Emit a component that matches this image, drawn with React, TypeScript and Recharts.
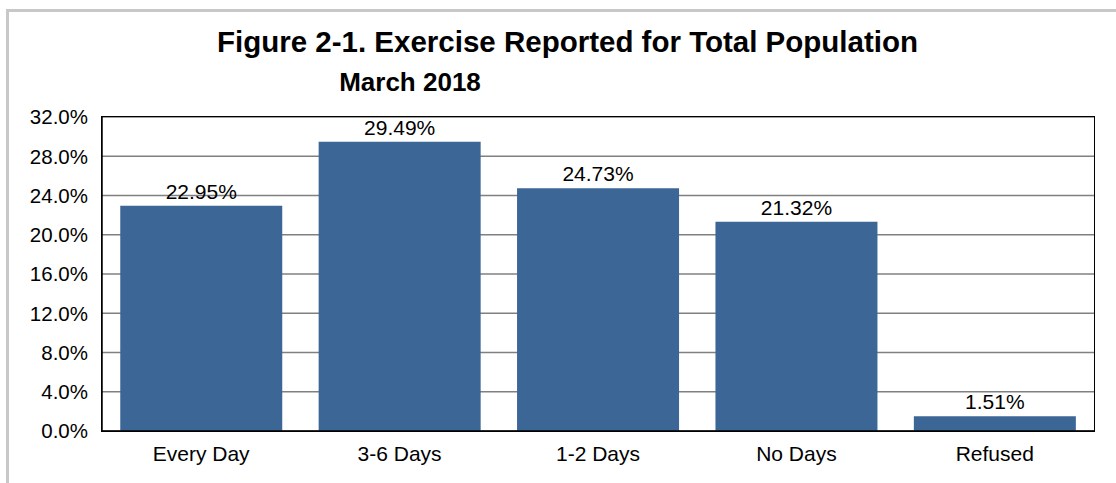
import React from 'react';
import { BarChart, Bar, XAxis, YAxis, CartesianGrid, LabelList } from 'recharts';

const categories = ['Every Day', '3-6 Days', '1-2 Days', 'No Days', 'Refused'];
const values = [22.95, 29.49, 24.73, 21.32, 1.51];
const yTicks = [0, 4, 8, 12, 16, 20, 24, 28, 32];

const data = categories.map((c, i) => ({ name: c, value: values[i] }));

const FONT = '"Liberation Sans", Arial, sans-serif';

export default function App() {
  return (
    <div style={{ position: 'absolute', left: 0, top: 0, width: 1116, height: 483, background: '#fff', overflow: 'hidden', fontFamily: FONT }}>
      <div style={{ position: 'absolute', left: 6, top: 9, width: 1200, height: 600, borderTop: '3px solid #c8c8c8', borderLeft: '3px solid #c8c8c8' }} />
      <div style={{ position: 'absolute', left: 0, width: 1135, top: 25, textAlign: 'center', fontSize: 29.5, fontWeight: 'bold', lineHeight: '34px', color: '#000' }}>
        Figure 2-1. Exercise Reported for Total Population
      </div>
      <div style={{ position: 'absolute', left: 0, width: 820, top: 67, textAlign: 'center', fontSize: 26, fontWeight: 'bold', lineHeight: '30px', color: '#000' }}>
        March 2018
      </div>
      <div style={{ position: 'absolute', left: 0, top: 0 }}>
        <BarChart width={1116} height={483} data={data} margin={{ top: 117, right: 22, bottom: 0, left: 0 }} barCategoryGap="9.2%">
          <CartesianGrid vertical={false} stroke="#808080" strokeWidth={1.5} />
          <XAxis
            dataKey="name"
            height={52}
            axisLine={{ stroke: '#000', strokeWidth: 1.5 }}
            tickLine={false}
            tickSize={8}
            tickMargin={7}
            tick={{ fill: '#000', fontSize: 21, fontFamily: FONT }}
          />
          <YAxis
            width={102}
            domain={[0, 32]}
            ticks={yTicks}
            interval={0}
            tickFormatter={(v: number) => v.toFixed(1) + '%'}
            axisLine={{ stroke: '#000', strokeWidth: 1.5 }}
            tickLine={false}
            tickSize={6}
            tickMargin={8}
            tick={{ fill: '#000', fontSize: 20.5, fontFamily: FONT }}
          />
          <Bar dataKey="value" fill="#3B6696" isAnimationActive={false}>
            <LabelList
              dataKey="value"
              position="top"
              offset={7}
              formatter={(v: number) => v.toFixed(2) + '%'}
              style={{ fill: '#000', fontSize: 21, fontFamily: FONT }}
            />
          </Bar>
        </BarChart>
      </div>
      <div style={{ position: 'absolute', left: 101, top: 116, width: 992, height: 314, border: '1.5px solid #000', pointerEvents: 'none' }} />
    </div>
  );
}
